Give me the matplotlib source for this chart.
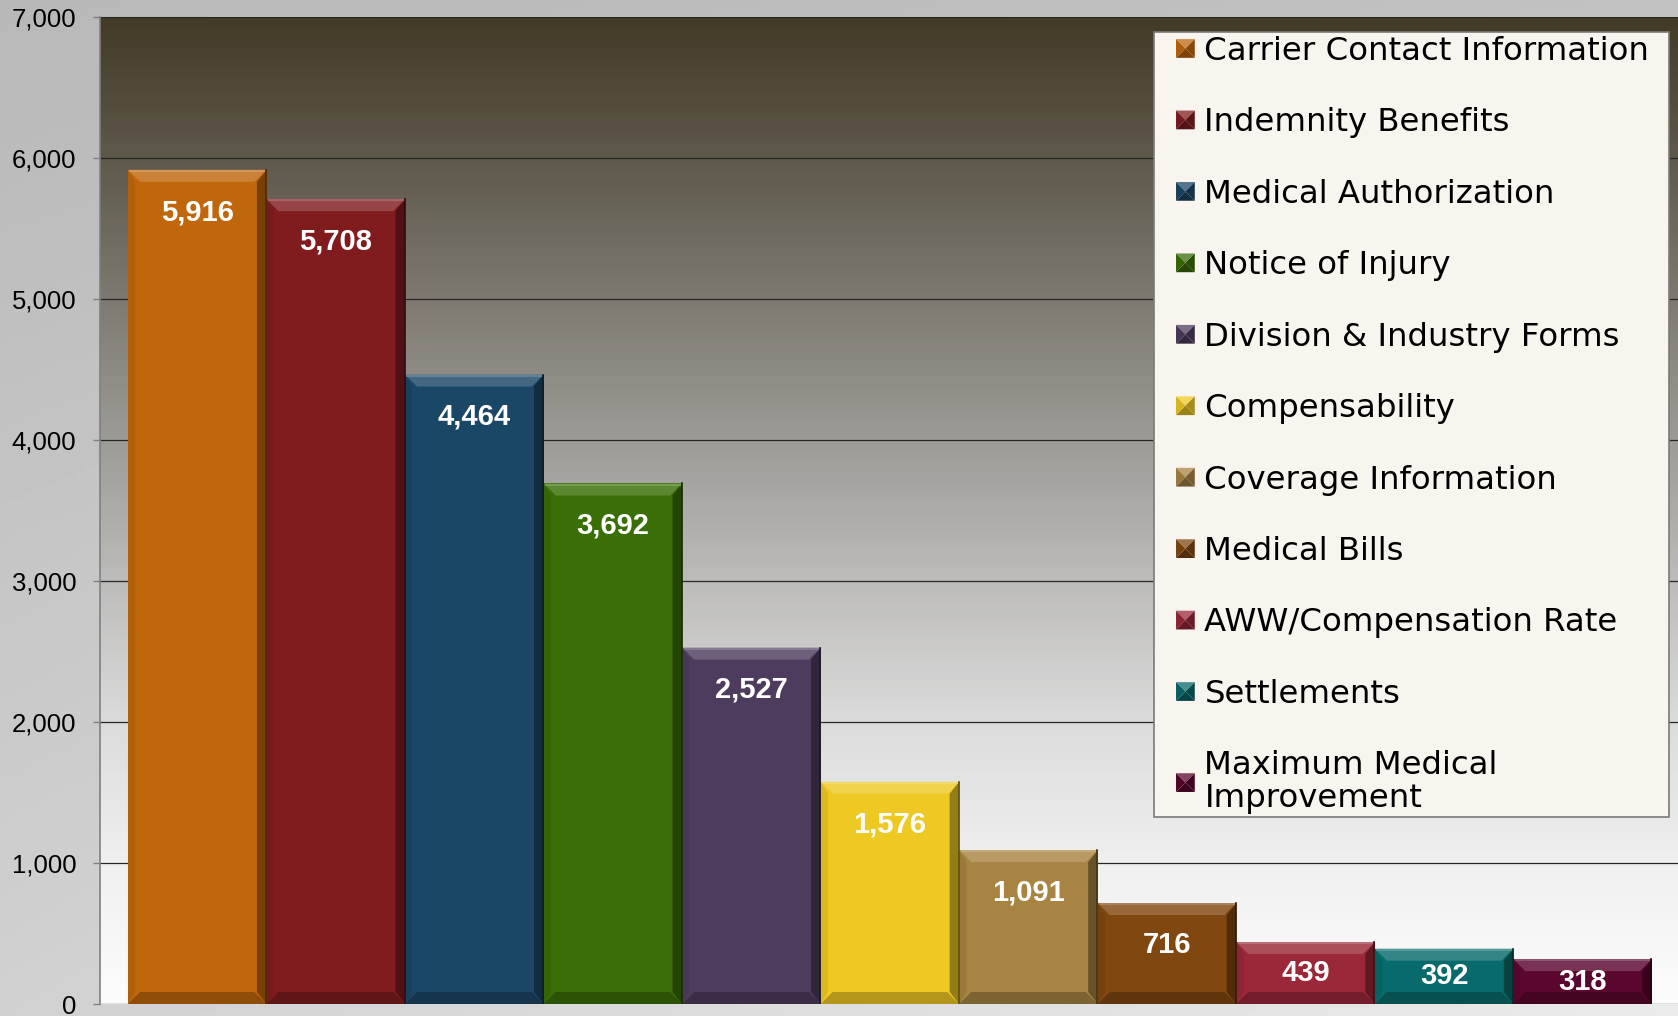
import numpy as np
import matplotlib
matplotlib.use("Agg")
import matplotlib.pyplot as plt
import matplotlib.colors as mcolors
from matplotlib.patches import Polygon, Rectangle
from matplotlib.legend_handler import HandlerBase

categories = ["Carrier Contact Information", "Indemnity Benefits", "Medical Authorization",
              "Notice of Injury", "Division & Industry Forms", "Compensability",
              "Coverage Information", "Medical Bills", "AWW/Compensation Rate",
              "Settlements", "Maximum Medical\nImprovement"]
values = [5916, 5708, 4464, 3692, 2527, 1576, 1091, 716, 439, 392, 318]
bar_colors = ["#c0670c", "#801c1e", "#1b4766", "#3a6e06", "#4e3c5e", "#eec823",
              "#a88442", "#814710", "#9a2838", "#086a6a", "#5a062e"]
yticks = [0, 1000, 2000, 3000, 4000, 5000, 6000, 7000]


def shade(c, f):
    # f > 0 lightens toward white, f < 0 darkens toward black
    rgb = np.array(mcolors.to_rgb(c))
    if f >= 0:
        return tuple(rgb + (1 - rgb) * f)
    return tuple(rgb * (1 + f))


W, H, DPI = 16.78, 10.16, 100
fig = plt.figure(figsize=(W, H), dpi=DPI)

# figure background gradient
bg = fig.add_axes([0, 0, 1, 1], zorder=-10)
gx, gy = np.meshgrid(np.linspace(0, 1, 200), np.linspace(0, 1, 200))
val = 0.72 + 0.04 * gx + 0.10 * gy + 0.06 * gx * gy
bg.imshow(val, cmap="gray", vmin=0, vmax=1, aspect="auto", extent=[0, 1, 0, 1], origin="upper")
bg.axis("off")

ax_l, ax_b, ax_w, ax_h = 100 / 1678, 12 / 1016, 1578 / 1678, 987 / 1016
ax = fig.add_axes([ax_l, ax_b, ax_w, ax_h])
ax.set_facecolor("none")
xlim = (-0.702, 10.688)
ylim = (0, 7000)
ax.set_xlim(*xlim)
ax.set_ylim(*ylim)

# plot area gradient
stops = [(0.0, "#fcfcfc"), (0.143, "#f0f0f0"), (0.286, "#dbdbdb"), (0.429, "#bdbcba"),
         (0.571, "#9d9b96"), (0.714, "#7e7a71"), (0.857, "#5f594c"), (1.0, "#433a28")]
cmap = mcolors.LinearSegmentedColormap.from_list("plotbg", stops)
grad = np.linspace(1, 0, 256).reshape(-1, 1)
ax.imshow(grad, cmap=cmap, vmin=0, vmax=1, aspect="auto", extent=[0, 1, 0, 1],
          transform=ax.transAxes, zorder=0)

for t in yticks:
    ax.axhline(t, color="#262626", lw=0.9, zorder=1)

# bevelled bars
px_x = ax_w * W * DPI / (xlim[1] - xlim[0])
px_y = ax_h * H * DPI / (ylim[1] - ylim[0])
bev = 12
bx, by = bev / px_x, bev / px_y
for i, (v, c) in enumerate(zip(values, bar_colors)):
    x0, x1 = i - 0.5, i + 0.5
    ax.add_patch(Rectangle((x0, 0), 1, v, facecolor=c, edgecolor="none", zorder=2))
    b_y = min(by, v / 2)
    top = [(x0, v), (x1, v), (x1 - bx, v - b_y), (x0 + bx, v - b_y)]
    bot = [(x0, 0), (x1, 0), (x1 - bx, b_y), (x0 + bx, b_y)]
    left = [(x0, 0), (x0 + bx * 0.6, b_y), (x0 + bx * 0.6, v - b_y), (x0, v)]
    right = [(x1, 0), (x1 - bx * 0.8, b_y), (x1 - bx * 0.8, v - b_y), (x1, v)]
    ax.add_patch(Polygon(left, closed=True, facecolor=shade(c, -0.08), edgecolor="none", zorder=3))
    ax.add_patch(Polygon(right, closed=True, facecolor=shade(c, -0.38), edgecolor="none", zorder=3))
    ax.add_patch(Polygon(top, closed=True, facecolor=shade(c, 0.18), edgecolor="none", zorder=3))
    ax.add_patch(Polygon(bot, closed=True, facecolor=shade(c, -0.25), edgecolor="none", zorder=3))
    ax.plot([x0 + 0.01, x1 - 0.01], [v - 8, v - 8], color=shade(c, 0.35), lw=1.2, zorder=4,
            solid_capstyle="butt")
    ax.plot([x1 - 0.004, x1 - 0.004], [0, v], color=shade(c, -0.6), lw=1.2, zorder=4)
    ly = max(v - 300, v / 2)
    ax.text(i, ly, f"{v:,}", ha="center", va="center", color="white", fontsize=21,
            fontweight="bold", family="Liberation Sans", zorder=5)

ax.set_xticks([])
ax.set_yticks(yticks)
ax.set_yticklabels([f"{t:,}" for t in yticks], family="Liberation Sans", fontsize=18.5)
ax.tick_params(axis="y", direction="out", length=5, width=1, color="#808080", pad=12)
for s in ["top", "right", "bottom"]:
    ax.spines[s].set_visible(False)
ax.spines["left"].set_color("#808080")
ax.spines["left"].set_linewidth(1.2)


class PyramidHandler(HandlerBase):
    def create_artists(self, legend, orig_handle, xdescent, ydescent, width, height, fontsize, trans):
        c = orig_handle.get_facecolor()
        s = 13.5
        x1 = width - xdescent
        x0 = x1 - s
        cy = height / 2 - ydescent
        y0, y1 = cy - s / 2, cy + s / 2
        cx = (x0 + x1) / 2
        tris = [([(x0, y1), (x1, y1), (cx, cy)], 0.25),
                ([(x0, y0), (x1, y0), (cx, cy)], -0.35),
                ([(x0, y0), (x0, y1), (cx, cy)], -0.1),
                ([(x1, y0), (x1, y1), (cx, cy)], -0.3)]
        arts = []
        for pts, f in tris:
            p = Polygon(pts, closed=True, facecolor=shade(c, f), edgecolor="none", transform=trans)
            arts.append(p)
        return arts


handles = [Rectangle((0, 0), 1, 1, facecolor=c) for c in bar_colors]
leg = fig.legend(handles, categories, loc="upper left",
                 bbox_to_anchor=(1154 / 1678, 0.0, 515 / 1678, 1 - 32 / 1016),
                 bbox_transform=fig.transFigure, mode="expand", borderaxespad=0,
                 prop={"family": "DejaVu Sans", "size": 23.3}, borderpad=0.12,
                 handlelength=1.14, handleheight=0.6, handletextpad=0.3,
                 labelspacing=1.25, fancybox=False, framealpha=1,
                 handler_map={Rectangle: PyramidHandler()})
leg.get_frame().set_facecolor("#f8f4ee")
leg.get_frame().set_edgecolor("#7a7a7a")
leg.get_frame().set_linewidth(1.2)
leg.get_texts()[-1].set_linespacing(1.05)

fig.savefig("out.png", dpi=DPI)
